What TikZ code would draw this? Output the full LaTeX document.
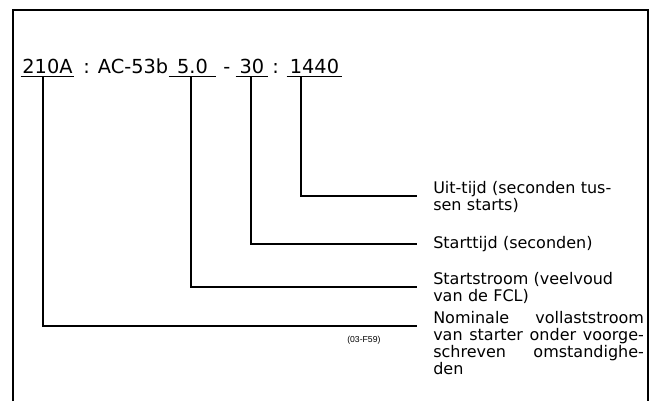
\documentclass[tikz,border=0pt]{standalone}
\usepackage{fontspec}
\setmainfont{DejaVu Sans}
\newfontfamily\tagfont{Liberation Sans}
\usetikzlibrary{positioning}

\begin{document}
\begin{tikzpicture}[
    x=0.75pt,
    y=-0.75pt,
    frame/.style={line width=1.7pt},
    lead/.style={line width=1.3pt},
    uline/.style={line width=0.8pt},
    code/.style={inner sep=0pt, font=\fontsize{14.5}{17}\selectfont},
    field/.style={code, anchor=base},
    note/.style={inner sep=0pt, anchor=base west, align=left, text width=158pt,
                 font=\fontsize{12}{12.75}\selectfont}
]

\useasboundingbox (0,0) rectangle (652,401);

% Label column and line ends
\def\xL{433}
\def\gap{16}

% =========================
% Frame (open at the bottom)
% =========================
\draw[frame] (13,401) -- (13,10) -- (648,10) -- (648,401);

% =========================
% Code line
% =========================
\node[field, minimum width=39.75pt] (f210)  at (47.5,73)  {210A};
\node[code, anchor=base west]       (sepA)  at (83,73)    {: AC-53b};
\node[field, minimum width=35.25pt] (f50)   at (192.5,73) {5.0};
\node[code, anchor=base west]       (sepB)  at (223,73)   {-};
\node[field, minimum width=24pt]    (f30)   at (252,73)   {30};
\node[code, anchor=base west]       (sepC)  at (272,73)   {:};
\node[field, minimum width=41.25pt] (f1440) at (314.5,73) {1440};

\foreach \f in {f210,f50,f30,f1440}
    \draw[uline] ([yshift=-2.6pt]\f.base west) -- ([yshift=-2.6pt]\f.base east);

% =========================
% Explanations
% =========================
\node[note] (t1440) at (\xL,193) {Uit-tijd (seconden tus-\\sen starts)};
\node[note] (t30)   at (\xL,248) {Starttijd (seconden)};
\node[note] (t50)   at (\xL,284) {Startstroom (veelvoud\\van de FCL)};
\node[note, align=justify] (t210) at (\xL,323)
    {Nominale vollaststroom\linebreak van starter onder voorge-\linebreak
     schreven omstandighe-\linebreak den};

\coordinate (e1440) at ([shift={(-\gap,3)}]t1440.base west);
\coordinate (e30)   at ([shift={(-\gap,-4)}]t30.base west);
\coordinate (e50)   at ([shift={(-\gap,3)}]t50.base west);
\coordinate (e210)  at ([shift={(-\gap,3)}]t210.base west);

% Leaders
\draw[lead] (f1440.base) ++(-13.5,3.5) |- (e1440);
\draw[lead] (f30.base)   ++(-1,3.5)    |- (e30);
\draw[lead] (f50.base)   ++(-1.5,3.5)  |- (e50);
\draw[lead] (f210.base)  ++(-4.5,3.5)  |- (e210);

% Figure number
\node[inner sep=0pt, anchor=base west, font=\tagfont\fontsize{6.5}{7}\selectfont]
    (fig) at (347,342) {(03-F59)};

\end{tikzpicture}
\end{document}
